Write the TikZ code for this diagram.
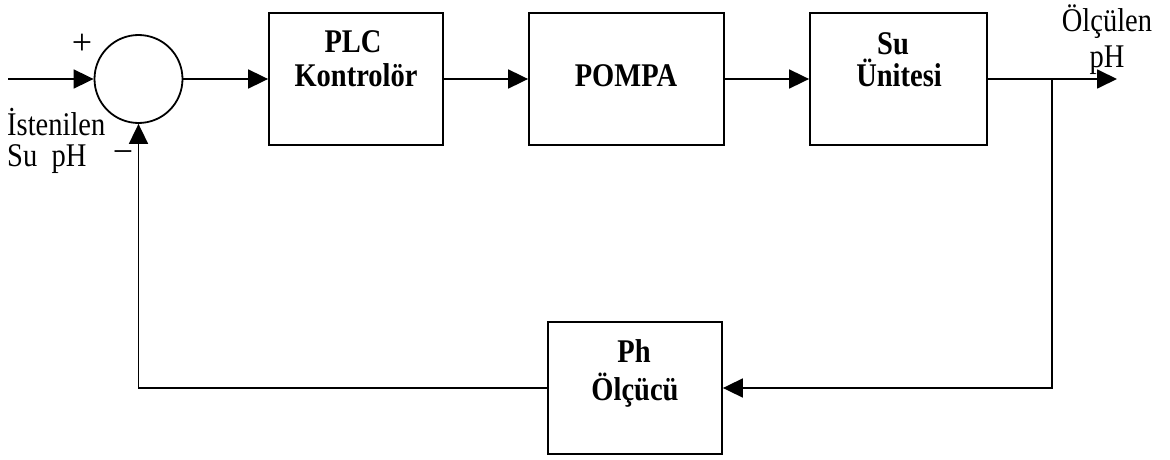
\documentclass[tikz,border=0pt]{standalone}
\usepackage{fontspec}
\setmainfont{Liberation Serif}
\usetikzlibrary{arrows.meta}
% slightly taller letterforms, as in the printed block diagram
\newcommand{\talltxt}[1]{\scalebox{1}[1.16]{#1}}
\tikzset{
  wire/.style={line width=1.8pt},
  flow/.style={wire,-{Triangle[length=20pt,width=19pt]}},
  blockbox/.style={draw,line width=1.8pt,minimum height=132pt,inner sep=0pt},
  sumnode/.style={draw,circle,line width=1.8pt,minimum size=88pt,inner sep=0pt},
  boldlbl/.style={anchor=base,inner sep=0pt,font=\fontsize{28.5}{30}\selectfont\bfseries},
  plainlbl/.style={inner sep=0pt,font=\fontsize{28.5}{30}\selectfont},
  signlbl/.style={inner sep=0pt,font=\fontsize{36}{36}\selectfont}
}
\begin{document}
\begin{tikzpicture}[x=1pt,y=-1pt]
  \useasboundingbox (0,0) rectangle (1170,460);

  % summing junction and forward path blocks
  \node[sumnode] (sum) at (138.5,79) {};
  \node[blockbox,minimum width=174pt] (plc) at (356,79) {};
  \node[blockbox,minimum width=195pt] (pompa) at (626.5,79) {};
  \node[blockbox,minimum width=177pt] (su) at (898.5,79) {};
  % feedback block
  \node[blockbox,minimum width=174pt] (ph) at (635,388) {};

  % block texts
  \node[boldlbl] (plcA) at (353,53) {\talltxt{PLC}};
  \node[boldlbl] (plcB) at (356,87) {\talltxt{Kontrolör}};
  \node[boldlbl] (pompaA) at (626,87) {\talltxt{POMPA}};
  \node[boldlbl] (suA) at (893,55) {\talltxt{Su}};
  \node[boldlbl] (suB) at (899,87) {\talltxt{Ünitesi}};
  \node[boldlbl] (phA) at (634,362) {\talltxt{Ph}};
  \node[boldlbl] (phB) at (635,400) {\talltxt{Ölçücü}};

  % signal labels
  \node[plainlbl,anchor=base west] (refA) at (7,135) {\talltxt{İstenilen}};
  \node[plainlbl,anchor=base west] (refB) at (7,166) {\talltxt{Su\ \ pH}};
  \node[plainlbl,anchor=base] (outA) at (1107,32) {\talltxt{Ölçülen}};
  \node[plainlbl,anchor=base] (outB) at (1107,67) {\talltxt{pH}};
  \node[signlbl] (plus) at (82,44) {+};
  \node[signlbl] (minus) at (123,157) {−};

  % connectors
  \coordinate (in) at (8,79);
  \coordinate (br) at (1052,79);
  \coordinate (out) at (1117,79);
  \draw[flow] (in) -- (sum.west);
  \draw[flow] (sum.east) -- (plc.west);
  \draw[flow] (plc.east) -- (pompa.west);
  \draw[flow] (pompa.east) -- (su.west);
  \draw[flow] (su.east) -- (out);
  \draw[flow] (br) |- (ph.east);
  \draw[flow] (ph.west) -| (sum.south);
\end{tikzpicture}
\end{document}
